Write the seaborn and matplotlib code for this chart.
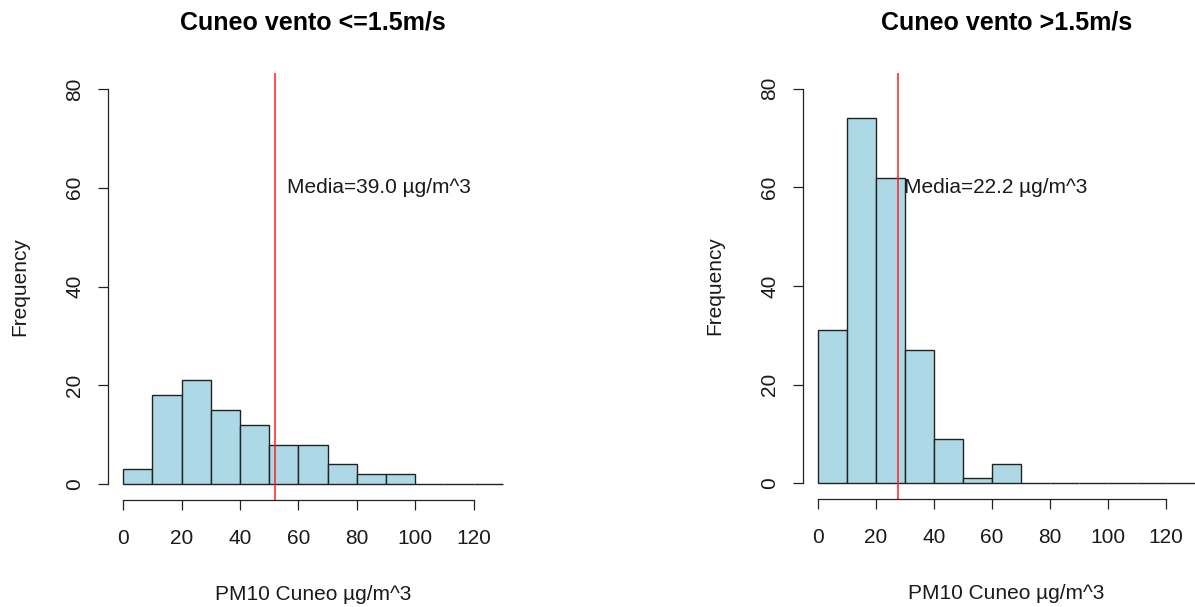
import numpy as np
import pandas as pd
import matplotlib
matplotlib.use("Agg")
import matplotlib.pyplot as plt
import seaborn as sns

# ---- data ----
bin_edges = [0, 10, 20, 30, 40, 50, 60, 70, 80, 90, 100, 110, 120, 130]
counts_low = [3, 18, 21, 15, 12, 8, 8, 4, 2, 2, 0, 0, 0]
counts_high = [31, 74, 62, 27, 9, 1, 4, 0, 0, 0, 0, 0, 0]
titles = ["Cuneo vento <=1.5m/s", "Cuneo vento >1.5m/s"]
line_x = [52.0, 27.6]
media_labels = ["Media=39.0 µg/m^3", "Media=22.2 µg/m^3"]
label_x = [56.2, 29.8]
label_y = 60
x_ticks = [0, 20, 40, 60, 80, 100, 120]
y_ticks = [0, 20, 40, 60, 80]
xlabel = "PM10 Cuneo µg/m^3"
ylabel = "Frequency"

sns.set_style("white")
plt.rcParams['font.family'] = ['Liberation Sans', 'DejaVu Sans']

fig = plt.figure(figsize=(11.95, 6.07), dpi=100)
W, H = 1195, 607
positions = [
    [108 / W, (H - 500) / H, 410 / W, 427 / H],
    [803 / W, (H - 499) / H, 407 / W, 426 / H],
]
text_col = "#1a1a1a"

mids = [(a + b) / 2 for a, b in zip(bin_edges[:-1], bin_edges[1:])]
for i, counts in enumerate([counts_low, counts_high]):
    ax = fig.add_axes(positions[i])
    df = pd.DataFrame({"x": mids, "w": counts})
    sns.histplot(data=df, x="x", weights="w", bins=bin_edges, ax=ax,
                 color="#ADD8E6", alpha=1.0, edgecolor="#222222", linewidth=1.0)
    ax.set_xlim(-5.2, 135.2)
    ax.set_ylim(-3.2, 83.2)
    ax.axvline(line_x[i], color="#ff2020", linewidth=1.1, clip_on=True)
    ax.text(label_x[i], label_y, media_labels[i], ha="left", va="center",
            fontsize=15, color=text_col)
    for s in ["top", "right"]:
        ax.spines[s].set_visible(False)
    ax.spines["left"].set_bounds(0, 80)
    ax.spines["bottom"].set_bounds(0, 120)
    for s in ["left", "bottom"]:
        ax.spines[s].set_color("#222222")
        ax.spines[s].set_linewidth(0.9)
    ax.set_xticks(x_ticks)
    ax.set_yticks(y_ticks)
    ax.tick_params(axis="both", which="both", direction="out", length=7.2,
                   width=0.9, color="#222222", labelsize=15,
                   labelcolor=text_col, left=True, bottom=True)
    ax.tick_params(axis="x", pad=14)
    ax.tick_params(axis="y", pad=10)
    for lab in ax.get_yticklabels():
        lab.set_rotation(90)
        lab.set_va("center")
    ax.set_xlabel(xlabel, fontsize=15, labelpad=26, color=text_col)
    ax.set_ylabel(ylabel, fontsize=15, labelpad=26, color=text_col)
    ax.grid(False)
    pos = positions[i]
    fig.text(pos[0] + pos[2] / 2, 1 - 22 / H, titles[i], ha="center",
             va="center", fontsize=18, fontweight="bold", color="black")

fig.savefig("out.png", dpi=100)
